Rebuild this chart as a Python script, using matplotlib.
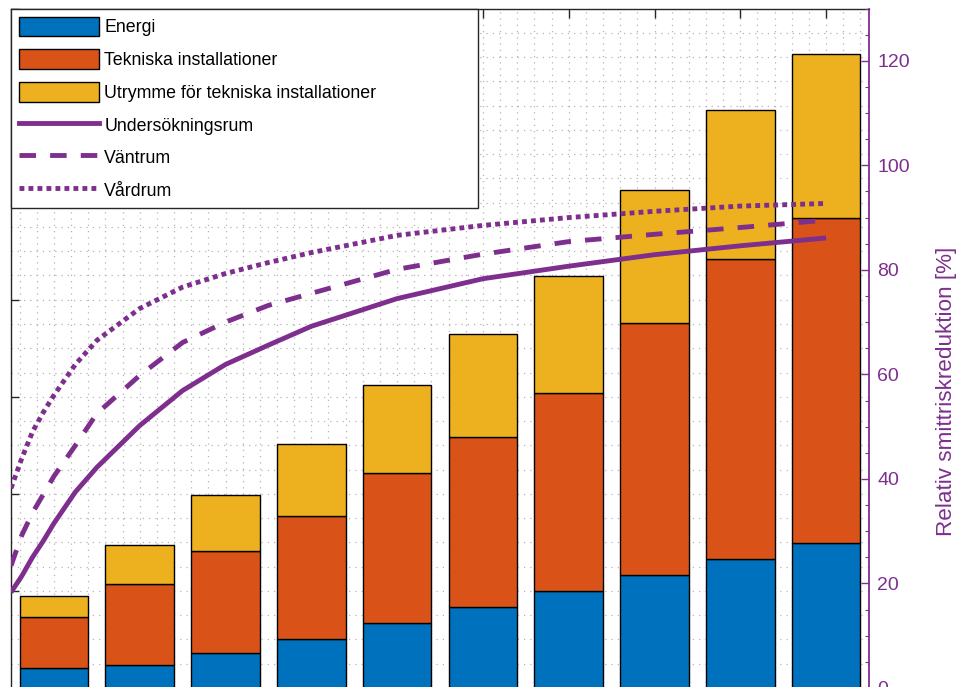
import numpy as np
import matplotlib
matplotlib.use("Agg")
import matplotlib.pyplot as plt
from matplotlib.ticker import MultipleLocator
from matplotlib.patches import Patch
from matplotlib.lines import Line2D

plt.rcParams['font.family'] = ['Liberation Sans', 'DejaVu Sans']

# Stacked bar data (left axis)
categories = np.arange(1, 11)
energi = [0.41, 0.48, 0.72, 1.00, 1.33, 1.66, 1.99, 2.33, 2.66, 2.99]
tekniska = [1.05, 1.66, 2.10, 2.54, 3.10, 3.52, 4.09, 5.19, 6.17, 6.70]
utrymme = [0.44, 0.81, 1.16, 1.49, 1.82, 2.11, 2.41, 2.75, 3.08, 3.38]

# Risk-reduction curves (right axis, %)
curve_x = [0.5, 0.625, 0.75, 0.875, 1, 1.25, 1.5, 2, 2.5, 3, 3.5, 4,
           5, 6, 7, 8, 9, 10]
undersokningsrum = [18.3, 21.4, 25.0, 28.1, 31.5, 37.5, 42.2, 50.2, 56.9, 61.9,
                    65.6, 69.2, 74.5, 78.3, 80.7, 82.9, 84.6, 86.1]
vantrum = [23.4, 29.2, 33.5, 37.0, 40.5, 46.4, 52.5, 59.8, 66.1, 70.0,
           73.2, 75.5, 80.1, 83.0, 85.4, 86.8, 88.1, 89.5]
vardrum = [38.2, 43.9, 49.0, 52.7, 56.0, 61.9, 66.5, 72.6, 76.7, 79.3,
           81.4, 83.3, 86.6, 88.5, 90.0, 91.2, 92.2, 92.7]

labels = ["Energi", "Tekniska installationer",
          "Utrymme för tekniska installationer",
          "Undersökningsrum", "Väntrum", "Vårdrum"]

c_blue = "#0072BD"
c_orange = "#D95319"
c_yellow = "#EDB120"
c_purple = "#7E2F8E"
c_axis = "#262626"

W, H = 963, 687
fig = plt.figure(figsize=(W / 100, H / 100), dpi=100)
ax = fig.add_axes([11 / W, -1 / H, 858 / W, 679.5 / H])

# Stacked bars
e = np.array(energi)
t = np.array(tekniska)
u = np.array(utrymme)
bar_kw = dict(width=0.8, edgecolor="black", linewidth=1.0, zorder=2)
ax.bar(categories, e, color=c_blue, **bar_kw)
ax.bar(categories, t, bottom=e, color=c_orange, **bar_kw)
ax.bar(categories, u, bottom=e + t, color=c_yellow, **bar_kw)

ax.set_xlim(0.5, 10.5)
ax.set_ylim(0, 14)
ax.set_xticks(categories)
ax.set_yticks(np.arange(0, 15, 2))
ax.xaxis.set_minor_locator(MultipleLocator(0.2))
ax.yaxis.set_minor_locator(MultipleLocator(0.5))
ax.set_axisbelow(True)
grid_kw = dict(color="#b5b5b5", linewidth=0.9, linestyle=(0, (1, 4)))
ax.grid(True, which="both", axis="both", **grid_kw)

ax.tick_params(axis="x", which="major", direction="in", length=6.5, width=1,
               top=True, bottom=True, labelbottom=False, color=c_axis)
ax.tick_params(axis="y", which="major", direction="in", length=5.8, width=1,
               left=True, right=False, labelleft=False, color=c_axis)
ax.tick_params(which="minor", length=0)
for side in ("left", "top", "bottom"):
    ax.spines[side].set_color(c_axis)
    ax.spines[side].set_linewidth(1.0)
ax.spines["right"].set_visible(False)

# Right axis with curves
ax2 = ax.twinx()
ax2.set_ylim(0, 130)
ax2.set_yticks(np.arange(0, 121, 20))
ax2.yaxis.set_minor_locator(MultipleLocator(5))
lw = 3.5
dash_style = (0, (3.4, 2.9))
dot_style = (0, (1.0, 0.85))
ax2.plot(curve_x, undersokningsrum, color=c_purple, lw=lw, solid_capstyle="butt",
         solid_joinstyle="round")
ax2.plot(curve_x, vantrum, color=c_purple, lw=lw, linestyle=dash_style)
ax2.plot(curve_x, vardrum, color=c_purple, lw=lw, linestyle=dot_style)

for side in ("left", "top", "bottom"):
    ax2.spines[side].set_visible(False)
ax2.spines["right"].set_color(c_purple)
ax2.spines["right"].set_linewidth(1.3)
ax2.tick_params(axis="y", which="major", direction="in", length=5.8, width=1,
                color=c_purple, labelcolor=c_purple, labelsize=14, pad=6)
ax2.tick_params(axis="y", which="minor", direction="in", length=3, width=0.8,
                color=c_purple)
ax2.set_ylabel("Relativ smittriskreduktion [%]", color=c_purple, fontsize=16.2)
ax2.yaxis.set_label_coords((936 - 11) / 858, (688 - 391) / 679.5)

# Legend
handles = [
    Patch(facecolor=c_blue, edgecolor="black", linewidth=1.0),
    Patch(facecolor=c_orange, edgecolor="black", linewidth=1.0),
    Patch(facecolor=c_yellow, edgecolor="black", linewidth=1.0),
    Line2D([], [], color=c_purple, lw=lw),
    Line2D([], [], color=c_purple, lw=lw, linestyle=dash_style),
    Line2D([], [], color=c_purple, lw=lw, linestyle=dot_style),
]
leg = ax2.legend(handles, labels, loc="upper left",
                 bbox_to_anchor=(0, 0, 467 / 858, 1), mode="expand",
                 borderaxespad=0, fontsize=12.8, handlelength=4.5,
                 handleheight=1.35, labelspacing=0.72, handletextpad=0.3,
                 borderpad=0.45, fancybox=False, framealpha=1, shadow=False)
leg.get_frame().set_edgecolor(c_axis)
leg.get_frame().set_linewidth(1.0)
leg.set_zorder(10)

fig.savefig("out.png", dpi=100)
